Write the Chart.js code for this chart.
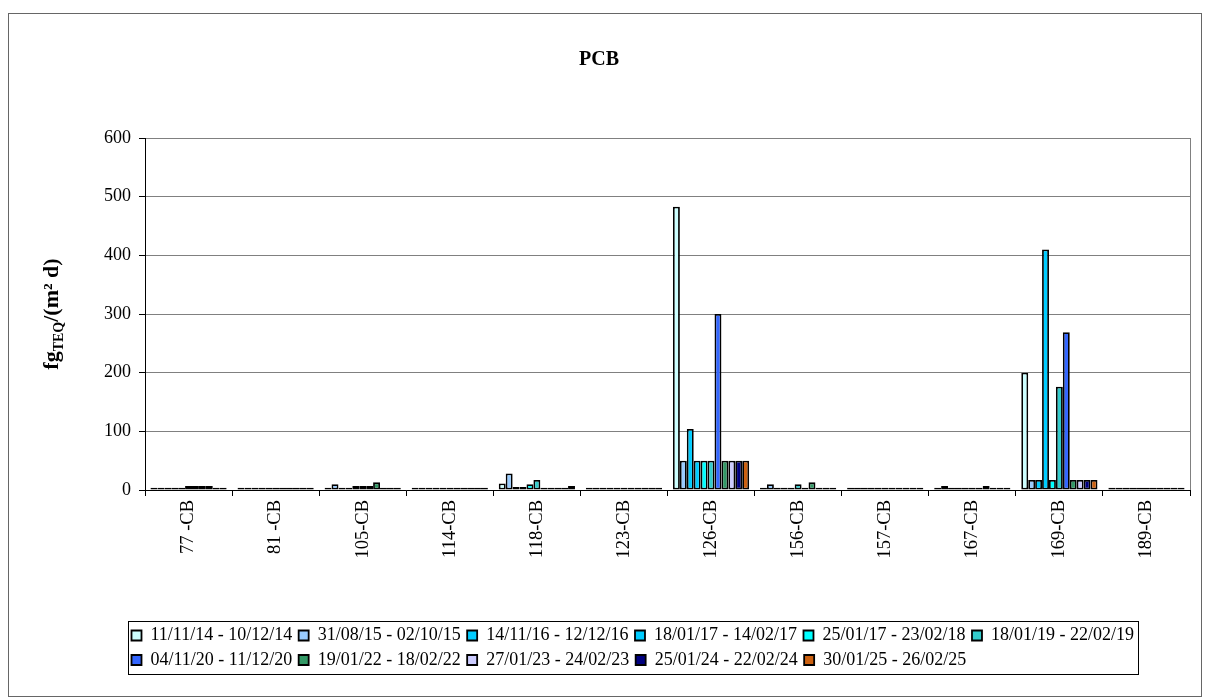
<!DOCTYPE html>
<html>
<head>
<meta charset="utf-8">
<script src="https://cdn.jsdelivr.net/npm/chart.js@4/dist/chart.umd.min.js"></script>
<style>
  body { margin: 0; background: #fff; }
</style>
</head>
<body>
<canvas id="grafico" width="1206" height="699"></canvas>
<script>
// categorias del eje x
var congeneres = ["77 -CB", "81 -CB", "105-CB", "114-CB", "118-CB", "123-CB", "126-CB", "156-CB", "157-CB", "167-CB", "169-CB", "189-CB"];

// periodos de muestreo (leyenda)
var periodos = [
    "11/11/14 - 10/12/14", "31/08/15 - 02/10/15", "14/11/16 - 12/12/16", "18/01/17 - 14/02/17",
    "25/01/17 - 23/02/18", "18/01/19 - 22/02/19", "04/11/20 - 11/12/20", "19/01/22 - 18/02/22",
    "27/01/23 - 24/02/23", "25/01/24 - 22/02/24", "30/01/25 - 26/02/25"
];

var colores = ["#CCFFFF", "#99CCFF", "#00CCFF", "#00CCFF", "#00FFFF", "#33CCCC", "#3366FF", "#339966", "#CCCCFF", "#000080", "#CC6111"];

// valores fg TEQ/(m2 d)
var p2014 = [4, 4, 4, 4, 11, 4, 483, 4, 4, 4, 200, 4];
var p2015 = [4, 4, 10, 4, 28, 4, 50, 10, 4, 7, 17, 4];
var p2016 = [4, 4, 4, 4, 5, 4, 104, 4, 4, 4, 17, 4];
var p2017a = [4, 4, 4, 4, 5, 4, 50, 4, 4, 4, 410, 4];
var p2017b = [4, 4, 7, 4, 10, 4, 50, 4, 4, 4, 17, 4];
var p2019 = [7, 4, 7, 4, 17, 4, 50, 10, 4, 4, 176, 4];
var p2020 = [7, 4, 7, 4, 4, 4, 300, 4, 4, 4, 269, 4];
var p2022 = [7, 4, 13, 4, 4, 4, 50, 13, 4, 7, 17, 4];
var p2023 = [7, 4, 4, 4, 4, 4, 50, 4, 4, 4, 17, 4];
var p2024 = [4, 4, 4, 4, 4, 4, 50, 4, 4, 4, 17, 4];
var p2025 = [4, 4, 4, 4, 7, 4, 50, 4, 4, 4, 17, 4];

var ticksY = [0, 100, 200, 300, 400, 500, 600];

var fuente = "'Liberation Serif', 'Times New Roman', serif";

var series = [p2014, p2015, p2016, p2017a, p2017b, p2019, p2020, p2022, p2023, p2024, p2025];

var datasets = series.map(function(valores, i) {
    return {
        label: periodos[i],
        data: valores,
        backgroundColor: colores[i],
        borderColor: "#000",
        borderWidth: 1.8,
        borderSkipped: false,
        categoryPercentage: 0.875,
        barPercentage: 1.0
    };
});

// marco exterior, borde derecho del area y caja de la leyenda
var marcos = {
    id: "marcos",
    afterLayout: function(chart) {
        var lg = chart.legend;
        lg.left = 125;
        lg.right = 125 + lg.width;
    },
    afterDraw: function(chart) {
        var ctx = chart.ctx;
        var a = chart.chartArea;
        ctx.save();
        ctx.strokeStyle = "#666";
        ctx.lineWidth = 1;
        ctx.strokeRect(8.5, 13.5, 1193, 683);

        ctx.strokeStyle = "#808080";
        ctx.beginPath();
        ctx.moveTo(a.right + 0.5, a.top);
        ctx.lineTo(a.right + 0.5, a.bottom);
        ctx.stroke();

        var hb = chart.legend.legendHitBoxes;
        if (hb && hb.length) {
            var izq = Math.min.apply(null, hb.map(function(h) { return h.left; }));
            var der = Math.max.apply(null, hb.map(function(h) { return h.left + h.width; }));
            var arr = hb[0].top;
            var aba = hb[hb.length - 1].top + hb[hb.length - 1].height;
            ctx.strokeStyle = "#000";
            ctx.strokeRect(Math.round(izq - 4) + 0.5, Math.round(arr - 6) + 0.5, Math.round(der - izq + 8), Math.round(aba - arr + 10));
        }
        ctx.restore();
    }
};

// titulo del eje y con subindice
var tituloEjeY = {
    id: "tituloEjeY",
    afterDraw: function(chart) {
        var ctx = chart.ctx;
        var partes = [
            { t: "fg", f: "bold 22px " + fuente, dy: 0 },
            { t: "TEQ", f: "bold 14px " + fuente, dy: 5 },
            { t: "/(m² d)", f: "bold 22px " + fuente, dy: 0 }
        ];
        ctx.save();
        var total = 0;
        partes.forEach(function(p) {
            ctx.font = p.f;
            p.w = ctx.measureText(p.t).width;
            total += p.w;
        });
        ctx.translate(58, 314);
        ctx.rotate(-Math.PI / 2);
        ctx.fillStyle = "#000";
        ctx.textBaseline = "alphabetic";
        var x = -total / 2;
        partes.forEach(function(p) {
            ctx.font = p.f;
            ctx.fillText(p.t, x, p.dy);
            x += p.w;
        });
        ctx.restore();
    }
};

var ctx = document.getElementById("grafico").getContext("2d");
var grafico = new Chart(ctx, {
    type: "bar",
    data: {
        labels: congeneres,
        datasets: datasets
    },
    plugins: [marcos, tituloEjeY],
    options: {
        responsive: false,
        animation: false,
        devicePixelRatio: 1,
        layout: {
            padding: { left: 8, right: 16, top: 13, bottom: 20 }
        },
        plugins: {
            title: {
                display: true,
                text: "PCB",
                color: "#000",
                font: { family: fuente, size: 20, weight: "bold" },
                padding: { top: 35, bottom: 66 }
            },
            legend: {
                display: true,
                position: "bottom",
                align: "start",
                labels: {
                    color: "#000",
                    font: { family: fuente, size: 18 },
                    boxWidth: 10,
                    boxHeight: 10,
                    padding: 6.5
                }
            },
            tooltip: { enabled: false }
        },
        scales: {
            x: {
                afterFit: function(scale) { scale.height = 130; },
                grid: {
                    display: true,
                    drawOnChartArea: false,
                    color: "#000",
                    tickLength: 6
                },
                border: { display: true, color: "#000", width: 1 },
                ticks: {
                    color: "#000",
                    font: { family: fuente, size: 18.5 },
                    minRotation: 90,
                    maxRotation: 90,
                    padding: 4,
                    autoSkip: false
                }
            },
            y: {
                min: 0,
                max: 600,
                afterFit: function(scale) { scale.width = 137; },
                afterBuildTicks: function(scale) {
                    scale.ticks = ticksY.map(function(v) { return { value: v }; });
                },
                grid: {
                    color: "#808080",
                    tickColor: "#000",
                    tickLength: 6
                },
                border: { display: true, color: "#000", width: 1 },
                ticks: {
                    color: "#000",
                    font: { family: fuente, size: 18 },
                    padding: 8
                }
            }
        }
    }
});
</script>
</body>
</html>
